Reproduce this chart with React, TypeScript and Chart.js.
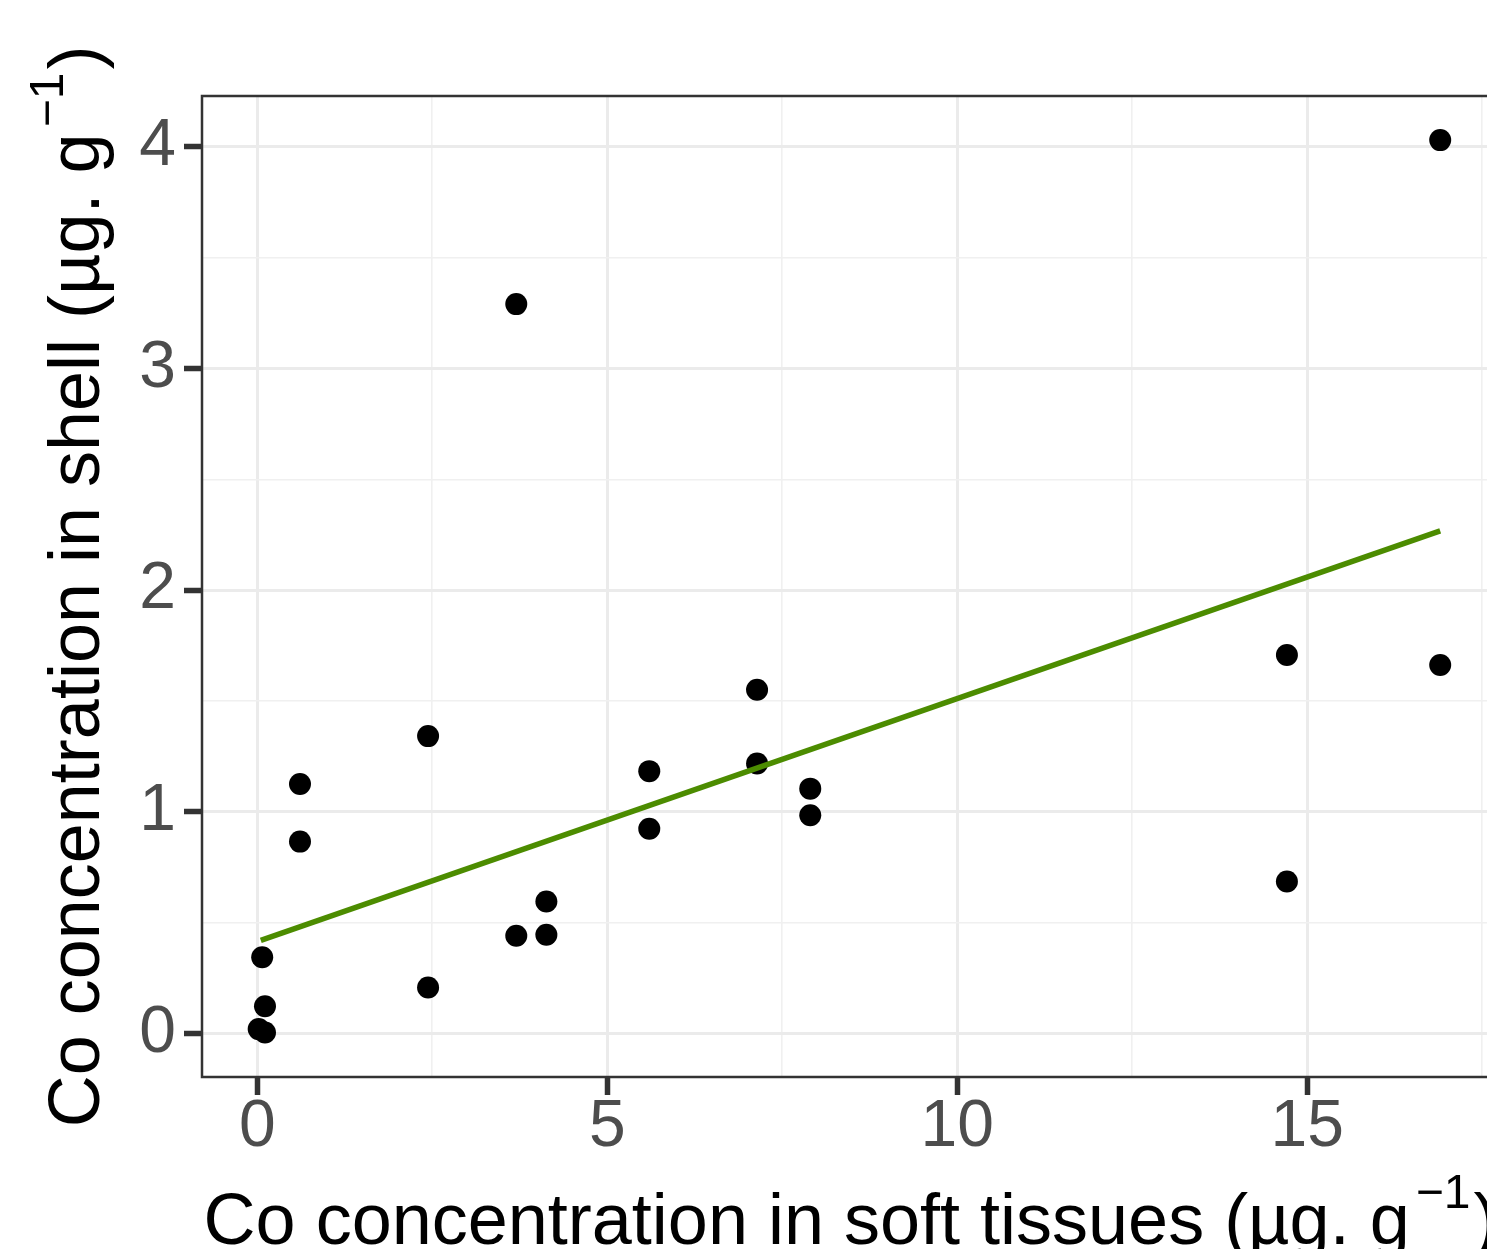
import React, { useEffect, useRef } from 'react';
import { Chart, registerables } from 'chart.js';

Chart.register(...registerables);

// Co concentration in soft tissues (µg/g)
const tissueX = [0.02, 0.11, 0.11, 0.07, 0.61, 0.61, 2.44, 2.44, 3.70, 3.70, 4.13, 4.13, 5.60, 5.60, 7.14, 7.14, 7.90, 7.90, 14.71, 14.71, 16.90, 16.90];
// Co concentration in shell (µg/g)
const shellY = [0.02, 0.005, 0.123, 0.344, 1.126, 0.866, 1.342, 0.208, 3.291, 0.441, 0.596, 0.446, 1.184, 0.924, 1.551, 1.218, 1.105, 0.985, 1.708, 0.686, 4.031, 1.663];
// fitted regression line end points
const fitX = [0.05, 16.9];
const fitY = [0.42, 2.268];

const xMajorTicks = [0, 5, 10, 15];
const xMinorTicks = [2.5, 7.5, 12.5, 17.5];
const yMajorTicks = [0, 1, 2, 3, 4];
const yMinorTicks = [0.5, 1.5, 2.5, 3.5];

const xTitleMain = 'Co concentration in soft tissues (µg. g';
const yTitleMain = 'Co concentration in shell (µg. g';
const superText = '−1';
const closeText = ')';

const FONT = '"Liberation Sans", Arial, Helvetica, sans-serif';
const CANVAS_W = 1520;
const CANVAS_H = 1262;

function drawComposite(ctx: CanvasRenderingContext2D, main: string) {
  const mainFont = `72px ${FONT}`;
  const supFont = `48px ${FONT}`;
  ctx.font = mainFont;
  const w1 = ctx.measureText(main).width;
  const w3 = ctx.measureText(closeText).width;
  ctx.font = supFont;
  const w2 = ctx.measureText(superText).width;
  const gap1 = 6;
  const gap2 = 3;
  const total = w1 + gap1 + w2 + gap2 + w3;
  let x = -total / 2;
  ctx.fillStyle = '#000000';
  ctx.textAlign = 'left';
  ctx.textBaseline = 'alphabetic';
  ctx.font = mainFont;
  ctx.fillText(main, x, 0);
  x += w1 + gap1;
  ctx.font = supFont;
  ctx.fillText(superText, x, -36);
  x += w2 + gap2;
  ctx.font = mainFont;
  ctx.fillText(closeText, x, 0);
}

const titlesPlugin = {
  id: 'ggTitles',
  afterDraw(chart: any) {
    const { ctx, chartArea } = chart;
    // panel border
    ctx.save();
    ctx.strokeStyle = '#333333';
    ctx.lineWidth = 2.5;
    ctx.strokeRect(chartArea.left, chartArea.top, chartArea.right - chartArea.left, chartArea.bottom - chartArea.top);
    ctx.restore();
    // x title
    ctx.save();
    ctx.translate((chartArea.left + chartArea.right) / 2, chartArea.bottom + 167);
    drawComposite(ctx, xTitleMain);
    ctx.restore();
    // y title
    ctx.save();
    ctx.translate(chartArea.left - 103, (chartArea.top + chartArea.bottom) / 2);
    ctx.rotate(-Math.PI / 2);
    drawComposite(ctx, yTitleMain);
    ctx.restore();
  },
};

function gridFor(major: number[]) {
  const isMajor = (c: any) => c && c.tick && major.includes(c.tick.value);
  return {
    drawTicks: true,
    tickLength: 18,
    color: (c: any) => (isMajor(c) ? '#EBEBEB' : '#F0F0F0'),
    lineWidth: (c: any) => (isMajor(c) ? 3 : 1.6),
    tickColor: (c: any) => (isMajor(c) ? '#333333' : 'rgba(0,0,0,0)'),
    tickWidth: 5.5,
  };
}

export default function App() {
  const ref = useRef<HTMLCanvasElement | null>(null);

  useEffect(() => {
    if (!ref.current) return;
    const points = tissueX.map((x, i) => ({ x, y: shellY[i] }));
    const fit = fitX.map((x, i) => ({ x, y: fitY[i] }));
    const chart = new Chart(ref.current, {
      type: 'scatter',
      data: {
        datasets: [
          {
            label: 'fit',
            data: fit,
            showLine: true,
            borderColor: '#4C8C00',
            borderWidth: 5.5,
            pointRadius: 0,
            pointHoverRadius: 0,
            order: 0,
          } as any,
          {
            label: 'samples',
            data: points,
            backgroundColor: '#000000',
            borderWidth: 0,
            pointRadius: 11,
            pointHoverRadius: 11,
            order: 1,
          },
        ],
      },
      options: {
        responsive: false,
        animation: false,
        events: [],
        layout: { padding: { top: 96, right: 21, left: 0, bottom: 0 } },
        plugins: { legend: { display: false }, tooltip: { enabled: false } },
        scales: {
          x: {
            type: 'linear',
            min: -0.79,
            max: 17.74,
            afterBuildTicks: (s: any) => {
              s.ticks = [...xMajorTicks, ...xMinorTicks].sort((a, b) => a - b).map((v) => ({ value: v }));
            },
            afterFit: (s: any) => {
              s.height = CANVAS_H - 1077;
            },
            ticks: {
              autoSkip: false,
              maxRotation: 0,
              padding: -7,
              color: '#4D4D4D',
              font: { family: FONT, size: 66 },
              callback: (v: any) => (xMajorTicks.includes(Number(v)) ? String(v) : ''),
            },
            grid: gridFor(xMajorTicks) as any,
            border: { display: false },
          },
          y: {
            type: 'linear',
            min: -0.196,
            max: 4.23,
            afterBuildTicks: (s: any) => {
              s.ticks = [...yMajorTicks, ...yMinorTicks].sort((a, b) => a - b).map((v) => ({ value: v }));
            },
            afterFit: (s: any) => {
              s.width = 202;
            },
            ticks: {
              autoSkip: false,
              padding: 8,
              color: '#4D4D4D',
              font: { family: FONT, size: 66 },
              callback: (v: any) => (yMajorTicks.includes(Number(v)) ? String(v) : ''),
            },
            grid: gridFor(yMajorTicks) as any,
            border: { display: false },
          },
        },
      },
      plugins: [titlesPlugin],
    });
    return () => chart.destroy();
  }, []);

  return (
    <div style={{ position: 'fixed', left: 0, top: 0, width: 1487, height: 1249, overflow: 'hidden', background: '#ffffff' }}>
      <canvas ref={ref} width={CANVAS_W} height={CANVAS_H} style={{ display: 'block', width: CANVAS_W, height: CANVAS_H }} />
    </div>
  );
}
